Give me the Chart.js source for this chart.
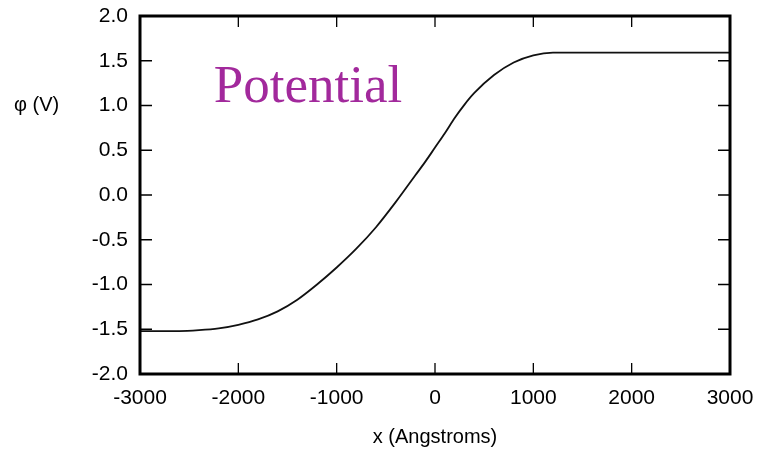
<!DOCTYPE html>
<html>
<head>
<meta charset="utf-8">
<script src="https://cdn.jsdelivr.net/npm/chart.js@4/dist/chart.umd.min.js"></script>
<style>
  html, body { margin: 0; padding: 0; background: #fff; }
  #wrap { width: 763px; height: 453px; }
</style>
</head>
<body>
<div id="wrap"><canvas id="potentialChart" width="763" height="453"></canvas></div>
<script>
// values
const xPositions = [-3000, -2800, -2600, -2400, -2200, -2000, -1800, -1600, -1400, -1200, -1000,
  -800, -600, -400, -200, -100, 0, 100, 200, 300, 400, 600, 800, 1000, 1200, 1400, 1600, 1800, 2000, 2200,
  2400, 2600, 2800, 3000];
const phiValues = [-1.52, -1.52, -1.52, -1.51, -1.49, -1.45, -1.39, -1.30, -1.17, -1.00, -0.81,
  -0.60, -0.36, -0.08, 0.22, 0.37, 0.53, 0.69, 0.86, 1.01, 1.14, 1.34, 1.48, 1.56, 1.59, 1.59, 1.59, 1.59, 1.59, 1.59,
  1.59, 1.59, 1.59, 1.59];
const xTicks = [-3000, -2000, -1000, 0, 1000, 2000, 3000];
const yTicks = [-2.0, -1.5, -1.0, -0.5, 0.0, 0.5, 1.0, 1.5, 2.0];

const fontFam = '"Liberation Sans", Arial, Helvetica, sans-serif';

// frame, inward ticks and the two free-standing labels
const framePlugin = {
  id: 'frame',
  afterDraw(chart) {
    const { ctx, chartArea: a, scales } = chart;
    ctx.save();
    ctx.strokeStyle = '#000';
    ctx.lineWidth = 1.3;
    xTicks.forEach(v => {
      const px = scales.x.getPixelForValue(v);
      ctx.beginPath();
      ctx.moveTo(px, a.bottom); ctx.lineTo(px, a.bottom - 11);
      ctx.moveTo(px, a.top); ctx.lineTo(px, a.top + 11);
      ctx.stroke();
    });
    yTicks.forEach(v => {
      const py = scales.y.getPixelForValue(v);
      ctx.beginPath();
      ctx.moveTo(a.left, py); ctx.lineTo(a.left + 12, py);
      ctx.moveTo(a.right, py); ctx.lineTo(a.right - 12, py);
      ctx.stroke();
    });
    ctx.lineWidth = 3;
    ctx.strokeRect(a.left, a.top, a.right - a.left, a.bottom - a.top);

    ctx.fillStyle = '#000';
    ctx.font = '20px ' + fontFam;
    ctx.textBaseline = 'middle';
    ctx.textAlign = 'left';
    ctx.fillText('\u03c6 (V)', 14, scales.y.getPixelForValue(1.0));

    ctx.fillStyle = '#a2299c';
    ctx.font = '53px "Liberation Serif", "Times New Roman", serif';
    ctx.textBaseline = 'alphabetic';
    ctx.fillText('Potential', scales.x.getPixelForValue(-2250), scales.y.getPixelForValue(1.04));
    ctx.restore();
  }
};

new Chart(document.getElementById('potentialChart'), {
  type: 'line',
  data: {
    datasets: [{
      data: xPositions.map((x, i) => ({ x: x, y: phiValues[i] })),
      borderColor: '#111',
      borderWidth: 1.8,
      pointRadius: 0,
      cubicInterpolationMode: 'monotone',
      fill: false
    }]
  },
  options: {
    responsive: false,
    animation: false,
    layout: { padding: { left: 0, right: 33, top: 16, bottom: 0 } },
    plugins: { legend: { display: false }, tooltip: { enabled: false } },
    scales: {
      x: {
        type: 'linear',
        min: -3000, max: 3000,
        grid: { display: false, drawTicks: false },
        border: { display: false },
        ticks: {
          stepSize: 1000, color: '#000', padding: 12,
          font: { family: fontFam, size: 21 },
          callback: v => String(v)
        },
        title: {
          display: true, text: 'x (Angstroms)', color: '#000',
          font: { family: fontFam, size: 20 },
          padding: { top: 6, bottom: 4 }
        },
        afterFit(scale) { scale.height = 79; scale.paddingRight = 0; }
      },
      y: {
        min: -2, max: 2,
        grid: { display: false, drawTicks: false },
        border: { display: false },
        ticks: {
          stepSize: 0.5, color: '#000', padding: 12,
          font: { family: fontFam, size: 21 },
          callback: v => v.toFixed(1)
        },
        afterFit(scale) { scale.width = 140; scale.paddingTop = 0; scale.paddingBottom = 0; }
      }
    }
  },
  plugins: [framePlugin]
});
</script>
</body>
</html>
